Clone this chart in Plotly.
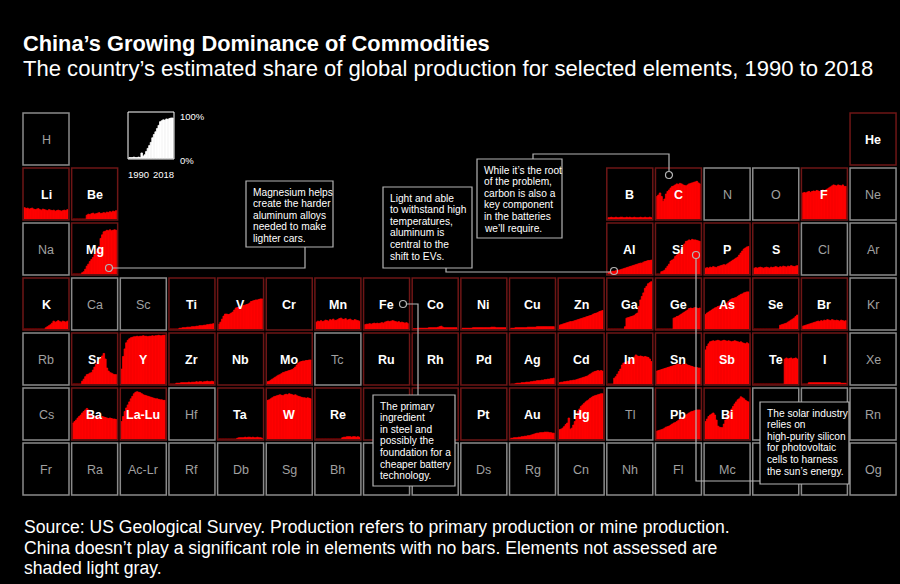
import plotly.graph_objects as go

W, H = 900, 584
YEARS = list(range(1990, 2019))

TITLE = "China’s Growing Dominance of Commodities"
SUBTITLE = "The country’s estimated share of global production for selected elements, 1990 to 2018"
FOOTER = [
    "Source: US Geological Survey. Production refers to primary production or mine production.",
    "China doesn’t play a significant role in elements with no bars. Elements not assessed are",
    "shaded light gray.",
]

# periodic table rows (symbol list per row, '' = empty slot)
ROWS = [
    ["H"] + [""] * 16 + ["He"],
    ["Li", "Be"] + [""] * 10 + ["B", "C", "N", "O", "F", "Ne"],
    ["Na", "Mg"] + [""] * 10 + ["Al", "Si", "P", "S", "Cl", "Ar"],
    ["K", "Ca", "Sc", "Ti", "V", "Cr", "Mn", "Fe", "Co", "Ni", "Cu", "Zn", "Ga", "Ge", "As", "Se", "Br", "Kr"],
    ["Rb", "Sr", "Y", "Zr", "Nb", "Mo", "Tc", "Ru", "Rh", "Pd", "Ag", "Cd", "In", "Sn", "Sb", "Te", "I", "Xe"],
    ["Cs", "Ba", "La-Lu", "Hf", "Ta", "W", "Re", "Os", "Ir", "Pt", "Au", "Hg", "Tl", "Pb", "Bi", "Po", "At", "Rn"],
    ["Fr", "Ra", "Ac-Lr", "Rf", "Db", "Sg", "Bh", "Hs", "Mt", "Ds", "Rg", "Cn", "Nh", "Fl", "Mc", "Lv", "Ts", "Og"],
]

ASSESSED = ["He", "Li", "Be", "B", "C", "F", "Mg", "Al", "Si", "P", "S", "K", "Ti", "V", "Cr", "Mn",
            "Fe", "Co", "Ni", "Cu", "Zn", "Ga", "Ge", "As", "Se", "Br", "Sr", "Y", "Zr", "Nb", "Mo",
            "Ru", "Rh", "Pd", "Ag", "Cd", "In", "Sn", "Sb", "Te", "I", "Ba", "La-Lu", "Ta", "W", "Re",
            "Os", "Ir", "Pt", "Au", "Hg", "Pb", "Bi"]

# China's share of global production (%), 1990..2018
LEGEND_EX = [2, 2, 2, 3, 2, 2, 3, 2, 12, 5, 8, 15, 22, 28, 35, 45, 52, 58, 65, 72, 80, 82, 84, 83, 86, 85, 87, 88, 88]
LI = [23, 21, 22, 20, 21, 22, 20, 19, 20, 21, 19, 18, 20, 19, 18, 17, 19, 18, 17, 18, 16, 17, 18, 17, 16, 17, 18, 17, 19]
BE = [0, 0, 0, 0, 0, 0, 0, 0, 0, 8, 10, 9, 11, 12, 10, 11, 12, 13, 11, 12, 13, 12, 14, 13, 15, 14, 16, 15, 17]
B_ = [3, 3, 4, 3, 3, 4, 3, 3, 4, 4, 3, 3, 4, 3, 4, 3, 3, 4, 3, 3, 3, 4, 3, 3, 4, 3, 3, 4, 3]
C_ = [45, 48, 52, 45, 35, 40, 50, 55, 58, 62, 65, 66, 68, 70, 69, 71, 70, 68, 67, 66, 68, 70, 71, 72, 73, 74, 75, 72, 70]
F_ = [52, 53, 52, 54, 55, 53, 55, 56, 55, 57, 56, 55, 57, 58, 56, 58, 60, 62, 64, 66, 68, 67, 66, 68, 67, 66, 68, 65, 65]
MG = [0, 0, 0, 0, 0, 0, 3, 5, 10, 16, 20, 25, 29, 33, 39, 45, 50, 55, 71, 78, 84, 85, 87, 86, 88, 86, 87, 88, 87]
AL = [4, 5, 5, 6, 6, 7, 8, 8, 9, 10, 11, 12, 13, 14, 15, 16, 17, 18, 19, 20, 21, 22, 22, 24, 25, 26, 27, 27, 28]
SI = [0, 0, 0, 5, 6, 8, 12, 16, 20, 26, 28, 30, 35, 38, 42, 45, 50, 55, 60, 65, 66, 68, 67, 69, 68, 68, 67, 66, 65]
P_ = [12, 13, 12, 14, 13, 15, 14, 13, 15, 16, 17, 18, 19, 18, 20, 22, 24, 26, 28, 30, 32, 34, 38, 42, 46, 50, 52, 54, 55]
S_ = [12, 13, 12, 13, 14, 13, 12, 13, 14, 13, 12, 14, 13, 14, 15, 14, 13, 15, 14, 16, 15, 14, 16, 15, 17, 16, 15, 16, 17]
K_ = [0, 0, 0, 0, 0, 0, 0, 0, 0, 0, 0, 0, 0, 0, 3, 5, 7, 9, 12, 16, 14, 15, 17, 15, 14, 16, 15, 14, 16]
TI = [0, 0, 0, 0, 0, 0, 2, 2, 3, 3, 3, 4, 4, 4, 5, 5, 5, 6, 6, 7, 7, 7, 8, 8, 9, 9, 10, 10, 11]
V_ = [10, 14, 20, 26, 30, 30, 29, 30, 32, 34, 38, 42, 43, 44, 45, 46, 47, 48, 49, 50, 52, 55, 56, 57, 58, 58, 59, 60, 60]
MN = [14, 16, 15, 17, 15, 16, 18, 17, 16, 19, 18, 20, 17, 18, 19, 21, 22, 20, 19, 21, 18, 19, 20, 18, 17, 19, 18, 17, 16]
FE = [9, 10, 10, 11, 10, 11, 12, 11, 12, 11, 12, 13, 12, 14, 15, 16, 15, 16, 17, 16, 15, 14, 15, 13, 14, 13, 12, 13, 11]
CO = [1, 1, 1, 2, 2, 2, 2, 2, 2, 2, 3, 3, 3, 3, 3, 3, 4, 5, 6, 4, 3, 3, 3, 3, 3, 3, 3, 3, 3]
NI = [2, 2, 2, 2, 2, 2, 2, 3, 3, 3, 3, 3, 3, 3, 3, 3, 3, 3, 3, 4, 4, 4, 3, 3, 3, 3, 3, 3, 3]
CU = [2, 2, 2, 3, 3, 3, 3, 3, 3, 3, 3, 4, 4, 4, 4, 4, 4, 5, 5, 5, 5, 5, 5, 5, 5, 5, 5, 5, 5]
ZN = [8, 9, 10, 11, 12, 13, 14, 15, 15, 16, 17, 18, 19, 20, 21, 22, 23, 24, 25, 26, 27, 28, 30, 31, 32, 33, 35, 36, 37]
GA = [0, 0, 0, 0, 0, 0, 0, 0, 0, 0, 0, 5, 22, 23, 24, 25, 26, 27, 30, 32, 45, 58, 65, 72, 81, 85, 90, 92, 94]
GE = [0, 0, 0, 0, 0, 0, 0, 0, 0, 0, 0, 22, 23, 25, 26, 28, 30, 32, 34, 36, 38, 41, 42, 41, 42, 43, 42, 41, 42]
AS = [29, 32, 34, 36, 38, 40, 42, 43, 45, 46, 47, 48, 48, 50, 52, 55, 58, 60, 61, 62, 63, 65, 67, 69, 70, 72, 73, 74, 74]
SE = [0, 0, 0, 0, 0, 0, 0, 0, 0, 0, 0, 0, 0, 0, 0, 0, 0, 8, 9, 10, 11, 12, 14, 16, 18, 20, 22, 25, 28]
BR = [6, 7, 8, 9, 10, 11, 12, 13, 14, 15, 16, 15, 17, 16, 18, 17, 19, 18, 17, 19, 18, 17, 18, 17, 16, 18, 17, 16, 17]
SR = [0, 0, 0, 0, 0, 0, 6, 10, 15, 19, 20, 22, 23, 28, 34, 39, 44, 48, 52, 56, 61, 50, 32, 26, 23, 22, 20, 19, 19]
Y_ = [30, 55, 70, 82, 87, 90, 92, 93, 94, 94, 95, 94, 95, 95, 96, 95, 95, 94, 95, 95, 96, 95, 96, 96, 97, 96, 96, 97, 97]
ZR = [0, 0, 0, 0, 2, 2, 2, 3, 3, 3, 3, 3, 4, 3, 4, 4, 4, 5, 4, 5, 5, 4, 5, 5, 6, 5, 5, 6, 5]
MO = [5, 6, 8, 10, 12, 14, 16, 18, 19, 21, 23, 24, 25, 26, 27, 28, 29, 31, 34, 38, 42, 44, 45, 46, 46, 47, 47, 48, 48]
AG = [0, 0, 0, 1, 2, 2, 2, 3, 3, 3, 4, 4, 4, 5, 5, 6, 6, 7, 7, 7, 8, 8, 9, 9, 10, 10, 11, 11, 12]
CD = [3, 4, 4, 5, 5, 6, 6, 7, 7, 8, 8, 9, 10, 11, 12, 13, 14, 15, 16, 18, 20, 22, 24, 25, 26, 27, 26, 27, 26]
IN = [0, 0, 0, 0, 12, 15, 20, 25, 30, 38, 42, 43, 44, 45, 48, 50, 52, 54, 58, 56, 55, 56, 55, 54, 55, 54, 53, 50, 45]
SN = [26, 27, 28, 29, 30, 31, 32, 33, 34, 35, 36, 37, 38, 39, 40, 39, 38, 40, 39, 40, 38, 37, 36, 35, 34, 33, 33, 32, 32]
SB = [68, 75, 80, 84, 85, 86, 85, 86, 87, 86, 85, 86, 87, 86, 85, 86, 85, 84, 85, 86, 85, 84, 83, 84, 82, 81, 80, 82, 80]
TE = [0, 0, 0, 0, 0, 0, 0, 0, 0, 0, 0, 0, 0, 0, 0, 0, 0, 0, 0, 0, 50, 52, 50, 51, 52, 50, 51, 52, 50]
I_ = [0, 0, 0, 0, 3, 3, 3, 3, 3, 3, 3, 3, 3, 3, 3, 3, 3, 3, 3, 3, 3, 3, 3, 3, 3, 2, 2, 2, 2]
BA = [32, 35, 38, 42, 45, 48, 52, 55, 58, 61, 58, 52, 48, 45, 44, 46, 45, 44, 43, 45, 44, 43, 42, 41, 42, 41, 40, 40, 39]
LALU = [35, 45, 55, 62, 68, 74, 80, 85, 90, 93, 94, 93, 92, 90, 88, 87, 86, 85, 84, 83, 82, 81, 80, 80, 79, 78, 78, 77, 77]
TA = [0, 0, 0, 0, 0, 0, 0, 0, 0, 0, 0, 0, 2, 3, 3, 3, 3, 4, 3, 4, 4, 3, 4, 3, 3, 4, 3, 3, 2]
W_ = [77, 78, 80, 82, 84, 85, 86, 87, 88, 87, 86, 88, 89, 88, 90, 89, 88, 87, 88, 86, 85, 84, 83, 82, 82, 81, 82, 81, 80]
RE = [0, 0, 0, 0, 0, 0, 0, 0, 0, 0, 0, 0, 0, 0, 0, 0, 0, 3, 4, 4, 5, 5, 5, 4, 5, 5, 4, 5, 4]
AU = [2, 2, 3, 3, 3, 4, 4, 5, 5, 6, 6, 7, 7, 8, 9, 10, 11, 12, 12, 13, 13, 13, 14, 14, 14, 13, 13, 12, 12]
HG = [19, 20, 22, 25, 29, 32, 42, 20, 22, 28, 35, 45, 55, 60, 65, 68, 71, 74, 76, 78, 81, 83, 85, 86, 87, 88, 89, 90, 90]
PB = [16, 17, 18, 19, 20, 22, 24, 25, 26, 28, 30, 32, 33, 35, 37, 40, 42, 44, 45, 48, 50, 52, 54, 55, 56, 57, 58, 58, 58]
BI = [35, 40, 45, 48, 50, 52, 48, 38, 26, 24, 23, 23, 30, 38, 45, 50, 55, 60, 65, 70, 74, 78, 80, 84, 82, 80, 77, 75, 74]

SHARES = {
    "Li": LI, "Be": BE, "B": B_, "C": C_, "F": F_, "Mg": MG, "Al": AL, "Si": SI, "P": P_, "S": S_,
    "K": K_, "Ti": TI, "V": V_, "Mn": MN, "Fe": FE, "Co": CO, "Ni": NI, "Cu": CU, "Zn": ZN,
    "Ga": GA, "Ge": GE, "As": AS, "Se": SE, "Br": BR, "Sr": SR, "Y": Y_, "Zr": ZR, "Mo": MO,
    "Ag": AG, "Cd": CD, "In": IN, "Sn": SN, "Sb": SB, "Te": TE, "I": I_, "Ba": BA, "La-Lu": LALU,
    "Ta": TA, "W": W_, "Re": RE, "Au": AU, "Hg": HG, "Pb": PB, "Bi": BI,
}

# annotation notes: (text lines, box, connector path points, dot)
NOTES = [
    (["Magnesium helps", "create the harder", "aluminum alloys", "needed to make", "lighter cars."],
     (246, 181, 333, 247), [(305, 247), (305, 268), (113, 268)], (109, 268)),
    (["Light and able", "to withstand high", "temperatures,", "aluminum is", "central to the", "shift to EVs."],
     (383, 187, 472, 268), [(446, 268), (446, 272), (610, 272)], (614, 271)),
    (["While it’s the root", "of the problem,", "carbon is also a", "key component", "in the batteries", "we’ll require."],
     (477, 159, 562, 238), [(533, 159), (533, 154), (669, 154), (669, 171)], (669, 175)),
    (["The primary", "ingredient", "in steel and", "possibly the", "foundation for a", "cheaper battery", "technology."],
     (373, 395, 455, 486), [(407, 304), (418, 304), (418, 395)], (403, 304)),
    (["The solar industry", "relies on", "high-purity silicon", "for photovoltaic", "cells to harness", "the sun’s energy."],
     (760, 402, 849, 484), [(696, 259), (696, 481), (760, 481)], (696, 255)),
]
HIDDEN = ["Os", "Ir", "Hs", "Mt", "Po", "At", "Lv", "Ts"]

# ---------------- style / geometry ----------------
FONT = "Liberation Sans, Arial, Helvetica, sans-serif"
RED = "#ff0000"
RED_EDGE = "#6e1616"
GRAY_EDGE = "#8a8a8a"
GRAY_TXT = "#a0a0a0"
NOTE_EDGE = "#b4b4b4"
X0, PITCH_X, CW = 23.0, 48.65, 46.0
Y0, PITCH_Y, CH = 113.0, 55.0, 52.0


def px(x):
    return x / W


def py(y):
    return 1 - y / H


fig = go.Figure()
layout = dict(
    width=W, height=H, margin=dict(l=0, r=0, t=0, b=0),
    paper_bgcolor="black", plot_bgcolor="black", showlegend=False,
    bargap=0,
    xaxis=dict(domain=[0, 1], range=[0, W], visible=False, fixedrange=True),
    yaxis=dict(domain=[0, 1], range=[H, 0], visible=False, fixedrange=True),
)
shapes = []
annotations = []
axis_n = [1]


def mini_chart(values, left, top, width, height, color):
    axis_n[0] += 1
    k = axis_n[0]
    layout[f"xaxis{k}"] = dict(domain=[px(left), px(left + width)], range=[1989.5, 2018.5],
                               visible=False, fixedrange=True)
    layout[f"yaxis{k}"] = dict(domain=[py(top + height), py(top)], range=[0, 100],
                               visible=False, fixedrange=True)
    fig.add_trace(go.Bar(x=YEARS, y=values, width=1, xaxis=f"x{k}", yaxis=f"y{k}",
                         marker=dict(color=color, line=dict(color=color, width=0.8)),
                         hoverinfo="skip"))


for r, row in enumerate(ROWS):
    for c, sym in enumerate(row):
        if not sym:
            continue
        left = X0 + c * PITCH_X
        top = Y0 + r * PITCH_Y
        assessed = sym in ASSESSED
        if sym in SHARES:
            mini_chart(SHARES[sym], left + 0.75, top + 0.75, CW - 1.5, CH - 1.5, RED)
        shapes.append(dict(type="rect", xref="x", yref="y", x0=left, x1=left + CW, y0=top, y1=top + CH,
                           line=dict(color=RED_EDGE if assessed else GRAY_EDGE, width=1.5),
                           fillcolor="rgba(0,0,0,0)", layer="above"))
        if sym in HIDDEN:
            continue
        annotations.append(dict(
            xref="x", yref="y", x=left + CW / 2, y=top + CH / 2 + 0.5, showarrow=False,
            text=f"<b>{sym}</b>" if assessed else sym,
            font=dict(family=FONT, size=12.5, color="white" if assessed else GRAY_TXT),
            xanchor="center", yanchor="middle"))

# legend key
mini_chart(LEGEND_EX, 128.5, 112.5, 45, 46, "white")
shapes.append(dict(type="rect", xref="x", yref="y", x0=128, x1=174, y0=112, y1=159,
                   line=dict(color="white", width=1), fillcolor="rgba(0,0,0,0)", layer="above"))
for txt, x, y, anc in [("100%", 178, 116, "left"), ("0%", 178, 160, "left"),
                       ("1990", 138.5, 174.5, "center"), ("2018", 163, 174.5, "center")]:
    annotations.append(dict(xref="x", yref="y", x=x, y=y, text=txt, showarrow=False,
                            xanchor=anc, yanchor="middle",
                            font=dict(family=FONT, size=9.5, color="white")))

# notes with connectors
for lines, box, path, dot in NOTES:
    d = "M " + " L ".join(f"{x},{y}" for x, y in path)
    shapes.append(dict(type="path", xref="x", yref="y", path=d,
                       line=dict(color=NOTE_EDGE, width=1.2), layer="above"))
    shapes.append(dict(type="circle", xref="x", yref="y", x0=dot[0] - 3.5, x1=dot[0] + 3.5,
                       y0=dot[1] - 3.5, y1=dot[1] + 3.5,
                       line=dict(color=NOTE_EDGE, width=1.2), fillcolor="rgba(0,0,0,0)", layer="above"))
    bx0, by0, bx1, by1 = box
    shapes.append(dict(type="rect", xref="x", yref="y", x0=bx0, x1=bx1, y0=by0, y1=by1,
                       line=dict(color=NOTE_EDGE, width=1.2), fillcolor="black", layer="above"))
    for i, ln in enumerate(lines):
        annotations.append(dict(xref="x", yref="y", x=bx0 + 5, y=by0 + 11 + i * 11.6, text=ln,
                                showarrow=False, xanchor="left", yanchor="middle",
                                font=dict(family=FONT, size=10.2, color="white")))

# title, subtitle, footer
annotations.append(dict(xref="x", yref="y", x=21, y=43, text=f"<b>{TITLE}</b>", showarrow=False,
                        xanchor="left", yanchor="middle", font=dict(family=FONT, size=21.8, color="white")))
annotations.append(dict(xref="x", yref="y", x=21, y=68, text=SUBTITLE, showarrow=False,
                        xanchor="left", yanchor="middle", font=dict(family=FONT, size=22.05, color="white")))
for i, ln in enumerate(FOOTER):
    annotations.append(dict(xref="x", yref="y", x=22, y=527 + i * 20.5, text=ln, showarrow=False,
                            xanchor="left", yanchor="middle", font=dict(family=FONT, size=17.6, color="white")))

layout["shapes"] = shapes
layout["annotations"] = annotations
fig.update_layout(**layout)
fig.write_html(
    "out.html",
    config={"displayModeBar": False, "staticPlot": True},
    post_script="document.body.style.margin='0';document.body.style.background='black';"
                "document.documentElement.style.background='black';",
)
